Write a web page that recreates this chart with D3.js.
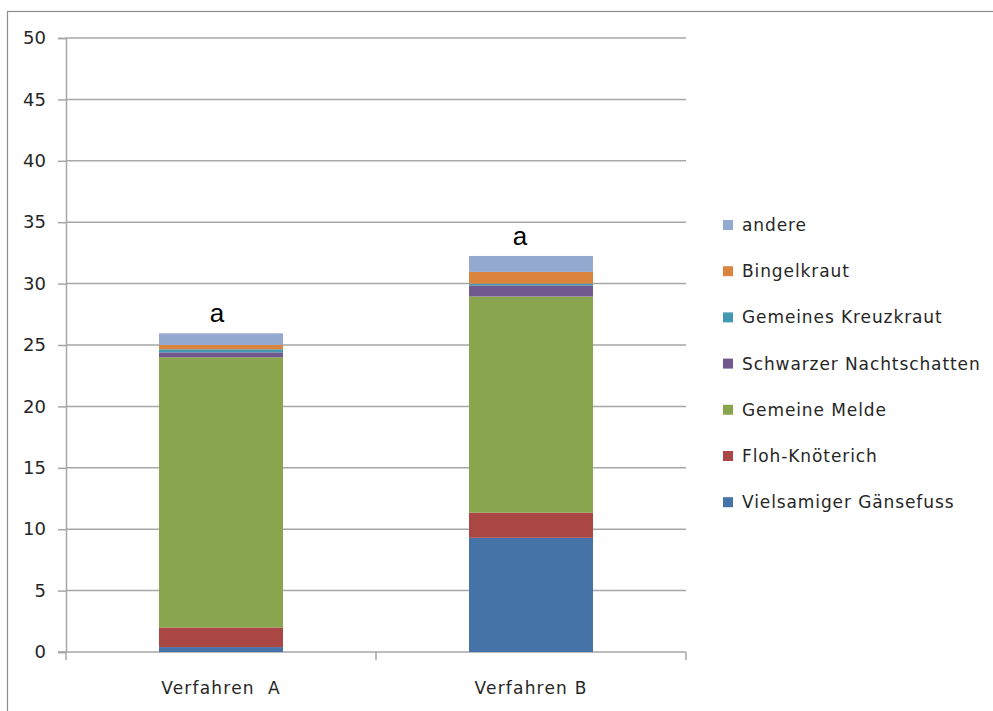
<!DOCTYPE html>
<html><head><meta charset="utf-8">
<script src="https://cdn.jsdelivr.net/npm/d3@7"></script>
<style>body{margin:0;background:#fff}</style>
</head><body>
<script>
const categories = ["Verfahren  A", "Verfahren B"];
const seriesNames = ["Vielsamiger Gänsefuss", "Floh-Knöterich", "Gemeine Melde", "Schwarzer Nachtschatten", "Gemeines Kreuzkraut", "Bingelkraut", "andere"];
const valuesA = [0.4, 1.6, 22.0, 0.4, 0.25, 0.35, 0.95];
const valuesB = [9.3, 2.05, 17.6, 0.9, 0.15, 0.95, 1.3];
const colors = ["#4572A7", "#AA4643", "#89A54E", "#71588F", "#4198AF", "#DB843D", "#93A9CF"];
const yTicks = [0, 5, 10, 15, 20, 25, 30, 35, 40, 45, 50];
const annotations = ["a", "a"];

const W = 993, H = 711;
const svg = d3.select("body").append("svg").attr("width", W).attr("height", H);
const font = "DejaVu Sans, sans-serif";
const textCol = "#262626";

svg.append("rect").attr("x", 7.5).attr("y", 11.5).attr("width", 1000).attr("height", 800)
  .attr("fill", "none").attr("stroke", "#8c8c8c").attr("stroke-width", 1.2);

const x0 = 66, x1 = 686, yTop = 38, yBot = 652;
const x = d3.scaleBand().domain(categories).range([x0, x1]).paddingInner(0.6).paddingOuter(0.3);
const y = d3.scaleLinear().domain([0, 50]).range([yBot, yTop]);

// gridlines
svg.append("g").selectAll("line").data(yTicks.filter(t => t > 0)).join("line")
  .attr("x1", x0).attr("x2", x1).attr("y1", d => y(d)).attr("y2", d => y(d))
  .attr("stroke", "#a6a6a6").attr("stroke-width", 1.5);

// y axis
const yAxis = d3.axisLeft(y).tickValues(yTicks).tickSize(8).tickPadding(12);
const gy = svg.append("g").attr("transform", `translate(${x0},0)`).call(yAxis);
gy.select(".domain").attr("stroke", "#a6a6a6").attr("stroke-width", 1.5);
gy.selectAll(".tick line").attr("stroke", "#a6a6a6").attr("stroke-width", 1.5);
gy.selectAll("text").attr("font-family", font).attr("font-size", 18).attr("fill", textCol);

// x axis
const gx = svg.append("g").attr("transform", `translate(0,${yBot})`);
gx.append("line").attr("x1", x0 - 8).attr("x2", x1).attr("y1", 0).attr("y2", 0)
  .attr("stroke", "#a6a6a6").attr("stroke-width", 1.5);
const bounds = [x0, (x0 + x1) / 2, x1];
gx.selectAll(".xt").data(bounds).join("line").attr("class", "xt")
  .attr("x1", d => d).attr("x2", d => d).attr("y1", 0).attr("y2", 8)
  .attr("stroke", "#a6a6a6").attr("stroke-width", 1.5);
gx.selectAll("text").data(categories).join("text")
  .attr("x", d => x(d) + x.bandwidth() / 2).attr("y", 42)
  .attr("text-anchor", "middle").attr("font-family", font).attr("font-size", 17).attr("fill", textCol)
  .attr("letter-spacing", 1.2)
  .style("white-space", "pre").text(d => d);

// stacked bars
const rows = categories.map((c, i) => {
  const o = { cat: c };
  const vals = i === 0 ? valuesA : valuesB;
  seriesNames.forEach((s, j) => o[s] = vals[j]);
  return o;
});
const stack = d3.stack().keys(seriesNames)(rows);
svg.append("g").selectAll("g").data(stack).join("g")
  .attr("fill", (d, i) => colors[i])
  .selectAll("rect").data(d => d).join("rect")
  .attr("x", d => x(d.data.cat)).attr("width", x.bandwidth())
  .attr("y", d => y(d[1])).attr("height", d => y(d[0]) - y(d[1]));

// annotations
const totals = rows.map(r => d3.sum(seriesNames, s => r[s]));
svg.append("g").selectAll("text").data(categories).join("text")
  .attr("x", (d, i) => x(d) + x.bandwidth() / 2 - (i === 0 ? 4 : 11))
  .attr("y", (d, i) => y(totals[i]) - 11)
  .attr("text-anchor", "middle").attr("font-family", "Liberation Sans, Arial, sans-serif")
  .attr("font-size", 26).attr("fill", "#000").text((d, i) => annotations[i]);

// legend
const legendOrder = seriesNames.map((s, i) => i).reverse();
const lg = svg.append("g");
legendOrder.forEach((si, k) => {
  const cy = 225 + k * 46.2;
  lg.append("rect").attr("x", 723).attr("y", cy - 5).attr("width", 10).attr("height", 10).attr("fill", colors[si]);
  lg.append("text").attr("x", 742).attr("y", cy).attr("dy", "0.35em")
    .attr("font-family", font).attr("font-size", 17).attr("letter-spacing", 0.9)
    .attr("fill", textCol).text(seriesNames[si]);
});
</script>
</body></html>
